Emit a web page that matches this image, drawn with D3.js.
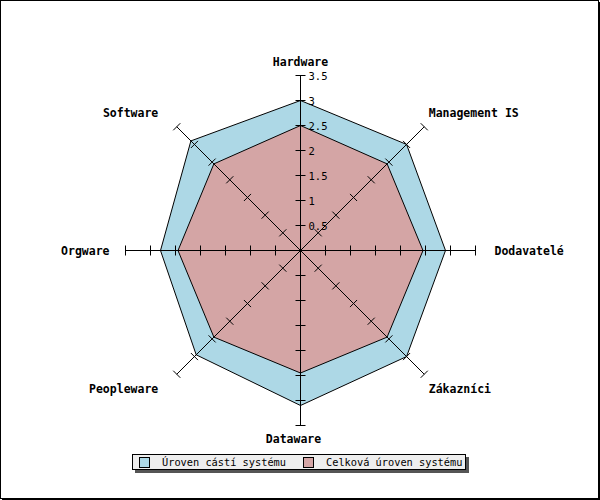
<!DOCTYPE html>
<html>
<head>
<meta charset="utf-8">
<script src="https://cdn.jsdelivr.net/npm/d3@7"></script>
<style>
  body { margin: 0; background: #fff; }
  svg { display: block; }
</style>
</head>
<body>
<div id="chart"></div>
<script>
// axes clockwise from the top
const axes = ['Hardware', 'Management IS', 'Dodavatelé', 'Zákazníci', 'Dataware', 'Peopleware', 'Orgware', 'Software']
const partsLevel = [3.0, 3.0, 2.9, 3.0, 3.1, 2.95, 2.8, 3.1]   // blue
const totalLevel = [2.5, 2.45, 2.45, 2.45, 2.45, 2.45, 2.45, 2.45] // red
const tickValues = [0.5, 1, 1.5, 2, 2.5, 3, 3.5]
const legendLabels = ['Úroven cástí systému', 'Celková úroven systému']
const colors = ['#add8e6', '#d4a5a5']

const width = 600
const height = 500
const cx = 300.5
const cy = 250.5

const r = d3.scaleLinear().domain([0, 3.5]).range([0, 175])
const angle = d3.scaleLinear().domain([0, axes.length]).range([0, 2 * Math.PI])

const px = (i, v) => cx + r(v) * Math.sin(angle(i))
const py = (i, v) => cy - r(v) * Math.cos(angle(i))

const svg = d3.select('#chart').append('svg')
    .attr('width', width)
    .attr('height', height)

// frame
svg.append('rect')
    .attr('x', 0.5).attr('y', 0.5)
    .attr('width', width - 2).attr('height', height - 2)
    .attr('fill', '#fff')
    .attr('stroke', '#000')
svg.append('line').attr('x1', width - 0.5).attr('x2', width - 0.5).attr('y1', 2).attr('y2', height)
    .attr('stroke', '#000')
svg.append('line').attr('x1', 2).attr('x2', width).attr('y1', height - 0.5).attr('y2', height - 0.5)
    .attr('stroke', '#000')

const g = svg.append('g').attr('transform', `translate(${cx},${cy})`)

const radial = d3.lineRadial()
    .angle((d, i) => angle(i))
    .radius(d => r(d))
    .curve(d3.curveLinearClosed)

// polygons, larger one first
;[partsLevel, totalLevel].forEach((series, k) => {
    g.append('path')
        .datum(series)
        .attr('d', radial)
        .attr('fill', colors[k])
        .attr('stroke', '#000')
        .attr('stroke-width', 1)
})

// axis lines
svg.append('g').selectAll('line')
    .data(axes)
    .join('line')
        .attr('x1', cx).attr('y1', cy)
        .attr('x2', (d, i) => px(i, 3.5))
        .attr('y2', (d, i) => py(i, 3.5))
        .attr('stroke', '#000')

// ticks across every axis
const tickLen = 5
axes.forEach((name, i) => {
    const a = angle(i)
    const nx = Math.cos(a), ny = Math.sin(a) // perpendicular direction
    svg.append('g').selectAll('line')
        .data(tickValues)
        .join('line')
            .attr('x1', v => px(i, v) - nx * tickLen)
            .attr('y1', v => py(i, v) - ny * tickLen)
            .attr('x2', v => px(i, v) + nx * tickLen)
            .attr('y2', v => py(i, v) + ny * tickLen)
            .attr('stroke', '#000')
})

// tick labels on first axis
svg.append('g').selectAll('text')
    .data(tickValues)
    .join('text')
        .attr('x', v => px(0, v) + 8)
        .attr('y', v => py(0, v) + 4)
        .attr('font-family', 'DejaVu Sans Mono, monospace')
        .attr('font-size', 10.5)
        .text(d => d)

// axis titles
const labelR = 187
svg.append('g').selectAll('text')
    .data(axes)
    .join('text')
        .attr('x', (d, i) => {
            const s = Math.sin(angle(i))
            const x = px(i, r.invert(labelR))
            if (s > 0.9) return x + 7
            if (s < -0.9) return x - 4
            if (s > 0.1) return x - 4
            if (s < -0.1) return x - 10
            if (Math.cos(angle(i)) < 0) return x - 7
            return x
        })
        .attr('y', (d, i) => {
            const c = Math.cos(angle(i))
            const y = py(i, r.invert(labelR))
            if (c > 0.9) return y + 2
            if (c < -0.9) return y + 5
            if (c > 0.1) return y - 1
            if (c < -0.1) return y + 10
            return y + 4
        })
        .attr('text-anchor', (d, i) => {
            const s = Math.sin(angle(i))
            return s > 0.1 ? 'start' : s < -0.1 ? 'end' : 'middle'
        })
        .attr('font-family', 'DejaVu Sans Mono, monospace')
        .attr('font-weight', 'bold')
        .attr('font-size', 11.5)
        .text(d => d)

// legend
const legend = svg.append('g').attr('transform', 'translate(132,454)')
legend.append('rect')
    .attr('x', 3).attr('y', 3).attr('width', 334).attr('height', 16)
    .attr('fill', '#555')
legend.append('rect')
    .attr('x', 0.5).attr('y', 0.5).attr('width', 333).attr('height', 15)
    .attr('fill', '#eeeeee')
    .attr('stroke', '#000')

const itemX = [7, 171]
const items = legend.selectAll('g.item')
    .data(legendLabels)
    .join('g')
        .attr('class', 'item')
        .attr('transform', (d, i) => `translate(${itemX[i]},0)`)
items.append('rect')
    .attr('x', 0.5).attr('y', 3.5).attr('width', 10).attr('height', 10)
    .attr('fill', (d, i) => colors[i])
    .attr('stroke', '#000')
items.append('text')
    .attr('x', 23).attr('y', 12)
    .attr('font-family', 'DejaVu Sans Mono, monospace')
    .attr('font-size', 10.3)
    .text(d => d)
</script>
</body>
</html>
